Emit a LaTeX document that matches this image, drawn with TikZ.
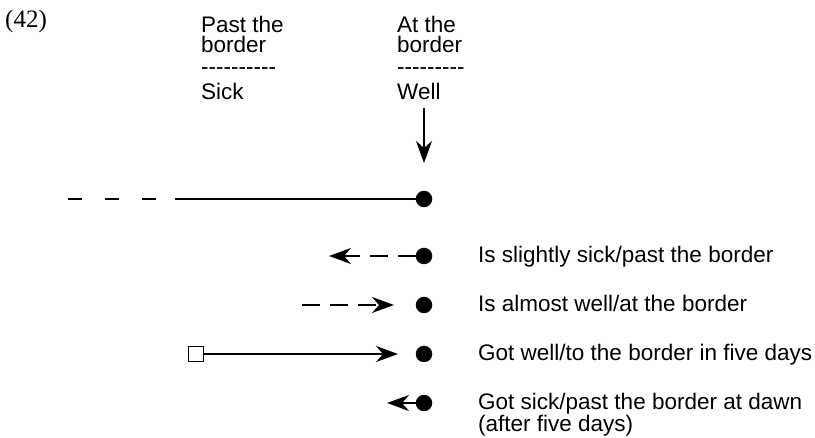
\documentclass[tikz,border=0pt]{standalone}
\usepackage{fontspec}
\setmainfont{Liberation Sans}
\newfontfamily\serifnum{Liberation Serif}
\usetikzlibrary{arrows.meta}
\begin{document}
\begin{tikzpicture}[x=1pt,y=-1pt,
  txt/.style={anchor=base west,inner sep=0pt,font=\fontsize{22.5}{22.5}\selectfont},
  dot/.style={circle,fill=black,minimum size=16.5pt,inner sep=0pt},
  ln/.style={line width=2pt},
  arr/.style={ln,-{Stealth[length=22pt,width=16pt,inset=7pt]}},
  dsh/.style={dash pattern=on 18pt off 10pt},
  sq/.style={draw,line width=1.7pt,fill=white,minimum size=15pt,inner sep=0pt}]
\useasboundingbox (0,0) rectangle (815,438);
\node[anchor=base west,inner sep=0pt,font=\serifnum\fontsize{25}{25}\selectfont] (num) at (5,28) {(42)};
% headings
\node[txt] (p1) at (201,33) {Past the};
\node[txt] (p2) at (201,53) {border};
\node[txt] (p3) at (201,75) {-{}-{}-{}-{}-{}-{}-{}-{}-{}-};
\node[txt] (sick) at (201,100) {Sick};
\node[txt] (a1) at (397,33) {At the};
\node[txt] (a2) at (397,53) {border};
\node[txt] (a3) at (397,75) {-{}-{}-{}-{}-{}-{}-{}-{}-};
\node[txt] (well) at (397,100) {Well};
% dots
\node[dot] (d0) at (424,199) {};
\node[dot] (d1) at (424,256) {};
\node[dot] (d2) at (424,305) {};
\node[dot] (d3) at (424,354) {};
\node[dot] (d4) at (424,403) {};
% top arrow
\coordinate (w0) at (424,108);
\coordinate (w1) at (424,163);
\draw[arr] (w0) -- (w1);
% main line
\coordinate (l0) at (68,199);
\coordinate (l1) at (157,199);
\coordinate (l2) at (175,199);
\draw[ln,dash pattern=on 14pt off 23pt] (l0) -- (l1);
\draw[ln] (l2) -- (d0);
% row 1
\coordinate (t1) at (329,256);
\draw[arr,dsh] (d1) -- (t1);
% row 2
\coordinate (s2) at (302,305);
\coordinate (t2) at (394,305);
\draw[arr,dsh] (s2) -- (t2);
% row 3
\node[sq] (box) at (196,354) {};
\coordinate (t3) at (398,354);
\draw[arr] (box) -- (t3);
% row 4
\coordinate (t4) at (387,403);
\draw[arr] (d4) -- (t4);
% labels
\node[txt] (r1) at (478,263) {Is slightly sick/past the border};
\node[txt] (r2) at (478,312) {Is almost well/at the border};
\node[txt] (r3) at (478,361) {Got well/to the border in five days};
\node[txt] (r4) at (478,410) {Got sick/past the border at dawn};
\node[txt] (r5) at (478,432) {(after five days)};
\end{tikzpicture}
\end{document}
